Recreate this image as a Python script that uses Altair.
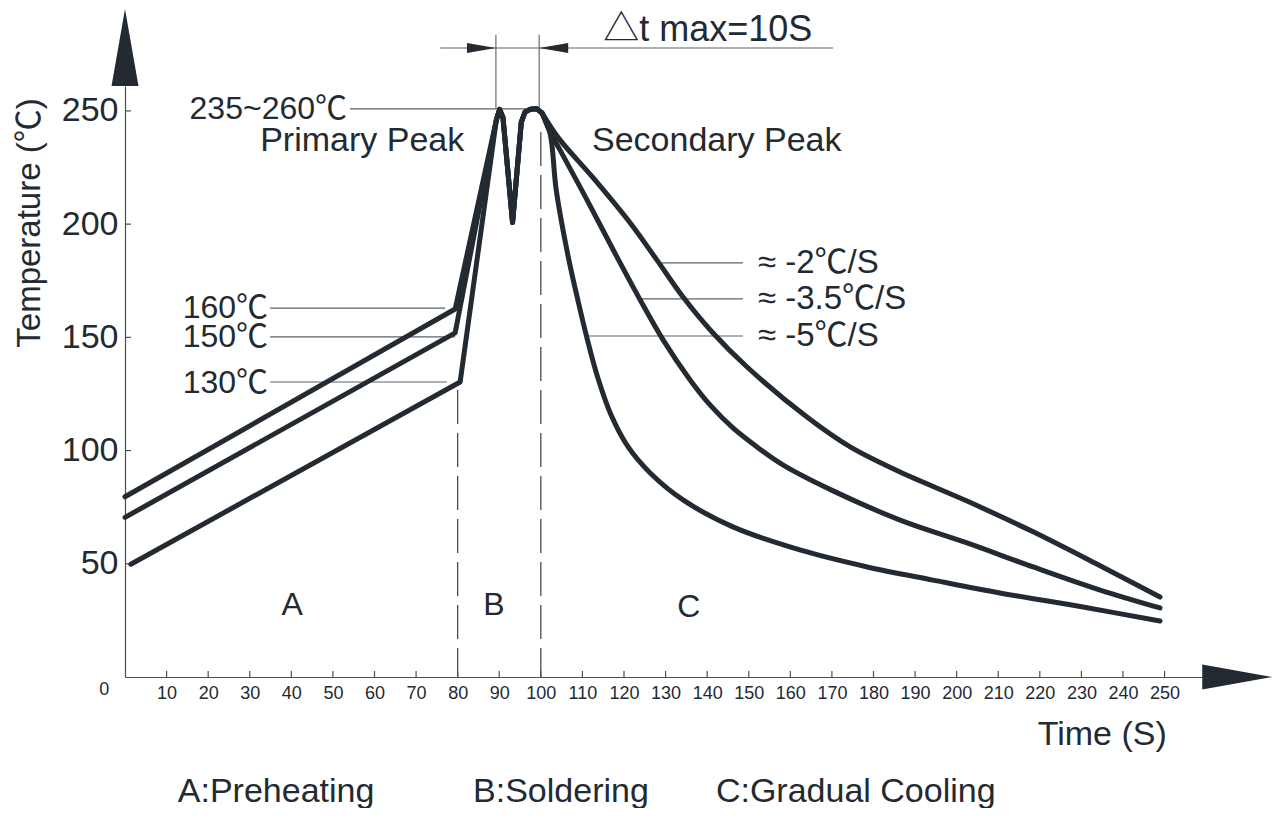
import altair as alt
import pandas as pd

# ---------------- data ----------------
X_TICKS = [10, 20, 30, 40, 50, 60, 70, 80, 90, 100, 110, 120, 130, 140, 150,
           160, 170, 180, 190, 200, 210, 220, 230, 240, 250]
Y_TICKS = [50, 100, 150, 200, 250]

PRE160_TIME = [0.0, 79.4]
PRE160_TEMP = [79.6, 162.5]
PRE150_TIME = [0.0, 79.4]
PRE150_TEMP = [70.5, 152.0]
PRE130_TIME = [1.4, 80.6]
PRE130_TEMP = [49.8, 130.3]

PEAK_TIME = [89.3, 90.1, 90.9, 93.2, 95.3, 96.2, 97.5, 99.0, 100.3]
PEAK_TEMP = [246.0, 250.7, 247.0, 200.7, 245.0, 249.5, 250.7, 251.0, 249.0]

COOL2_TIME = [100.3, 101.5, 104.6, 112.6, 121.5, 127.9, 134.2, 141.4, 149.6,
              164.0, 174.4, 186.4, 202.5, 218.4, 234.5, 248.9]
COOL2_TEMP = [249.0, 245.5, 237.2, 220.4, 200.5, 184.2, 167.8, 151.9, 136.9,
              114.8, 101.6, 90.5, 77.7, 64.1, 49.1, 35.3]
COOL35_TIME = [100.3, 102.2, 104.6, 111.1, 118.3, 123.9, 129.4, 135.9, 140.9,
               146.2, 152.0, 158.2, 170.3, 186.4, 202.5, 218.4, 234.5, 248.9]
COOL35_TEMP = [249.0, 240.7, 232.8, 210.7, 185.5, 166.5, 148.9, 131.2, 119.7,
               110.0, 101.6, 93.7, 82.2, 69.3, 59.2, 48.6, 38.4, 30.5]
COOL5_TIME = [100.3, 102.2, 103.7, 106.5, 108.9, 111.1, 113.5, 116.9, 121.0,
              126.3, 134.2, 146.2, 162.3, 178.5, 194.3, 210.4, 230.4, 248.9]
COOL5_TEMP = [249.0, 240.3, 215.1, 186.4, 166.5, 149.7, 133.4, 115.7, 101.6,
              90.1, 78.2, 66.3, 56.1, 48.6, 42.8, 37.1, 30.9, 24.7]

TEMP_LABELS = ["160℃", "150℃", "130℃", "235~260℃"]
TEMP_LABEL_TIME = [34.4, 34.4, 34.4, 53.4]
TEMP_LABEL_TEMP = [162.9, 150.0, 129.9, 250.7]

PEAK_LABELS = ["Primary Peak", "Secondary Peak"]
PEAK_LABEL_TIME = [32.5, 112.3]
PEAK_LABEL_TEMP = [236.5, 236.5]

RATE_LABELS = ["≈ -2℃/S", "≈ -3.5℃/S", "≈ -5℃/S"]
RATE_LABEL_TIME = [152.2, 152.2, 152.2]
RATE_LABEL_TEMP = [182.9, 167.0, 150.6]

ZONE_LABELS = ["A", "B", "C"]
ZONE_LABEL_TIME = [40.2, 88.7, 135.6]
ZONE_LABEL_TEMP = [31.8, 31.8, 31.0]

LEGEND_LABELS = ["A:Preheating", "B:Soldering", "C:Gradual Cooling"]
LEGEND_TIME = [12.7, 83.7, 142.1]
LEGEND_TEMP = [-50.8, -50.8, -50.8]

DELTA_LABEL = ["△t max=10S"]
DELTA_TIME = [115.0]
DELTA_TEMP = [285.6]

# leader / dimension lines (start time, end time, start temp, end temp)
THIN_T1 = [34.9, 34.9, 34.9, 54.1, 128.2, 123.9, 111.1, 89.2, 99.6, 75.8]
THIN_T2 = [77.0, 79.4, 77.4, 99.0, 148.6, 148.6, 148.6, 89.2, 99.6, 170.3]
THIN_Y1 = [162.9, 150.2, 130.3, 250.9, 182.9, 167.0, 150.6, 251.3, 251.3, 277.8]
THIN_Y2 = [162.9, 150.2, 130.3, 250.9, 182.9, 167.0, 150.6, 283.6, 283.6, 277.8]

DASH_TIME = [80, 100]
DASH_TOP = [126.8, 240.7]

# ---------------- styling ----------------
FONT = "Liberation Sans, Arial, Noto Sans CJK SC, sans-serif"
INK = "#232a31"
THIN = "#5a6068"
W, H = 1077, 591
XDOM = [0, 259]
YDOM = [0, 261]

xs = alt.Scale(domain=XDOM, nice=False, zero=False)
ys = alt.Scale(domain=YDOM, nice=False, zero=False)

# heating part (linear)
rows = []
for name, tt, TT in [("p160", PRE160_TIME, PRE160_TEMP),
                     ("p150", PRE150_TIME, PRE150_TEMP),
                     ("p130", PRE130_TIME, PRE130_TEMP)]:
    pts = list(zip(tt, TT)) + list(zip(PEAK_TIME, PEAK_TEMP))
    for i, (a, b) in enumerate(pts):
        rows.append({"s": name, "o": i, "t": a, "T": b})
heat_df = pd.DataFrame(rows)

rows = []
for name, tt, TT in [("c2", COOL2_TIME, COOL2_TEMP),
                     ("c35", COOL35_TIME, COOL35_TEMP),
                     ("c5", COOL5_TIME, COOL5_TEMP)]:
    for i, (a, b) in enumerate(zip(tt, TT)):
        rows.append({"s": name, "o": i, "t": a, "T": b})
cool_df = pd.DataFrame(rows)

heat = alt.Chart(heat_df).mark_line(
    strokeWidth=5, strokeCap="round", strokeJoin="round", color=INK
).encode(
    x=alt.X("t:Q", scale=xs, title=None,
            axis=alt.Axis(values=X_TICKS, ticks=False, domainColor="#4a4f55",
                          domainWidth=1.2, labelFont=FONT, labelFontSize=18,
                          labelColor=INK, labelPadding=7, labelFlush=False,
                          labelOverlap=False, grid=False)),
    y=alt.Y("T:Q", scale=ys, title=None,
            axis=alt.Axis(values=Y_TICKS, ticks=False, domainColor="#4a4f55",
                          domainWidth=1.2, labelFont=FONT, labelFontSize=34,
                          labelColor=INK, labelPadding=7, grid=False)),
    detail="s:N",
    order="o:Q",
)

cool = alt.Chart(cool_df).mark_line(
    strokeWidth=5, strokeCap="round", strokeJoin="round", color=INK,
    interpolate="catmull-rom"
).encode(
    x=alt.X("t:Q", scale=xs), y=alt.Y("T:Q", scale=ys),
    detail="s:N", order="o:Q",
)

# inward ticks
xt = alt.Chart(pd.DataFrame({"t": X_TICKS})).mark_rule(
    color="#4a4f55", strokeWidth=1.2
).encode(x=alt.X("t:Q", scale=xs), y=alt.value(H), y2=alt.value(H - 6))
yt = alt.Chart(pd.DataFrame({"T": Y_TICKS})).mark_rule(
    color="#4a4f55", strokeWidth=1.2
).encode(y=alt.Y("T:Q", scale=ys), x=alt.value(0), x2=alt.value(6))

thin = alt.Chart(pd.DataFrame({"t": THIN_T1, "t2": THIN_T2,
                               "T": THIN_Y1, "T2": THIN_Y2})).mark_rule(
    color=THIN, strokeWidth=1.1
).encode(x=alt.X("t:Q", scale=xs), x2="t2:Q",
         y=alt.Y("T:Q", scale=ys), y2="T2:Q")

dash = alt.Chart(pd.DataFrame({"t": DASH_TIME, "T": DASH_TOP,
                               "T2": [0, 0]})).mark_rule(
    color="#3a3f45", strokeWidth=1.2, strokeDash=[34, 9]
).encode(x=alt.X("t:Q", scale=xs), y=alt.Y("T:Q", scale=ys), y2="T2:Q")


def arrow(t, T, path, size):
    return alt.Chart(pd.DataFrame({"t": [t], "T": [T]})).mark_point(
        shape=path, size=size, filled=True, color=INK, opacity=1,
        strokeWidth=0
    ).encode(x=alt.X("t:Q", scale=xs), y=alt.Y("T:Q", scale=ys))


y_arrow = arrow(0, 295, "M0,0L0.35,2L-0.35,2Z", 5929)
x_arrow = arrow(275.9, 0, "M0,0L-2,-0.357L-2,0.357Z", 4900)
dim_r = arrow(89.2, 277.8, "M0,0L-2,-0.34L-2,0.34Z", 841)
dim_l = arrow(99.6, 277.8, "M0,0L2,-0.34L2,0.34Z", 841)


def texts(labels, tt, TT, size, align, angle=0):
    df = pd.DataFrame({"label": labels, "t": tt, "T": TT})
    kw = dict(font=FONT, fontSize=size, align=align, baseline="middle",
              color=INK)
    if angle:
        kw["angle"] = angle
    return alt.Chart(df).mark_text(**kw).encode(
        x=alt.X("t:Q", scale=xs), y=alt.Y("T:Q", scale=ys), text="label:N")


layers = [
    dash, thin, xt, yt, heat, cool, y_arrow, x_arrow, dim_r, dim_l,
    texts(TEMP_LABELS, TEMP_LABEL_TIME, TEMP_LABEL_TEMP, 32, "right"),
    texts(PEAK_LABELS, PEAK_LABEL_TIME, PEAK_LABEL_TEMP, 34, "left"),
    texts(RATE_LABELS, RATE_LABEL_TIME, RATE_LABEL_TEMP, 33, "left"),
    texts(ZONE_LABELS, ZONE_LABEL_TIME, ZONE_LABEL_TEMP, 32, "center"),
    texts(LEGEND_LABELS, LEGEND_TIME, LEGEND_TEMP, 34, "left"),
    texts(DELTA_LABEL, DELTA_TIME, DELTA_TEMP, 36, "left"),
    texts(["Temperature (℃)"], [-22.9], [200.5], 33, "center", angle=270),
    texts(["Time (S)"], [235.0], [-25.6], 34, "center"),
    texts(["0"], [-5.0], [-5.7], 18, "center"),
]

chart = alt.layer(*layers).properties(
    width=W, height=H,
    autosize=alt.AutoSizeParams(type="none"),
    padding={"left": 117, "top": 78, "right": 71, "bottom": 131},
    background="white",
).configure_view(strokeWidth=0)

chart.save("out.html", embed_options={"renderer": "svg", "actions": False})
